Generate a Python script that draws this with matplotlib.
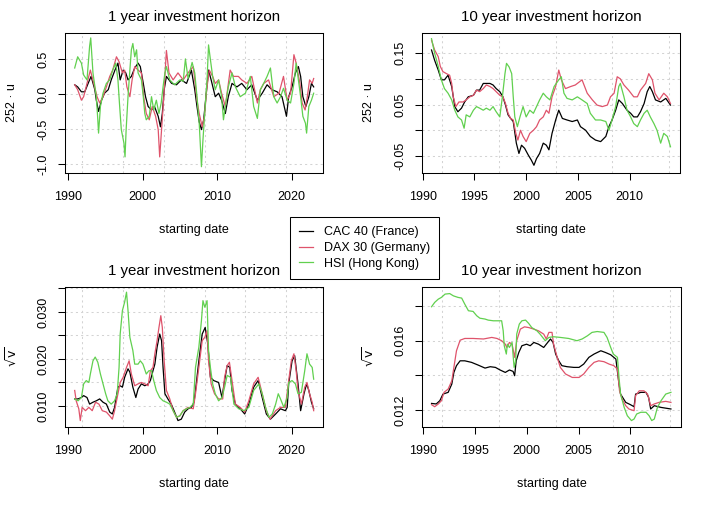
import matplotlib
matplotlib.use('Agg')
import matplotlib.pyplot as plt
from matplotlib.lines import Line2D

plt.rcParams['font.family'] = ['Liberation Sans', 'DejaVu Sans']
plt.rcParams['axes.unicode_minus'] = False
plt.rcParams['mathtext.fontset'] = 'dejavusans'

names = ['CAC 40 (France)', 'DAX 30 (Germany)', 'HSI (Hong Kong)']
colors = ['#000000', '#DF536B', '#61D04F']

# 1 year horizon, 252*u  (starting year, value)
cac_u1 = [(1990.9,0.13),(1991.3,0.10),(1991.8,0.03),(1992.25,0.03),(1992.7,0.15),(1993.1,0.25),(1993.6,0.06),(1993.8,-0.09),(1994.1,-0.25),(1994.5,-0.09),(1994.9,0.01),(1995.4,0.06),(1995.8,0.20),(1996.3,0.34),(1996.7,0.44),(1997.0,0.20),(1997.4,0.34),(1997.75,0.30),(1998.05,0.20),(1998.5,0.25),(1998.95,0.37),(1999.4,0.44),(1999.7,0.39),(2000.1,0.15),(2000.4,-0.04),(2000.75,-0.18),(2001.2,-0.23),(2001.6,-0.18),(2002.1,-0.32),(2002.4,-0.47),(2002.65,-0.28),(2002.9,0.06),(2003.2,0.25),(2003.9,0.15),(2004.55,0.13),(2005.2,0.20),(2005.9,0.15),(2006.55,0.34),(2007.0,0.06),(2007.3,-0.18),(2007.6,-0.40),(2007.9,-0.51),(2008.2,-0.37),(2008.5,-0.04),(2008.85,0.34),(2009.2,0.20),(2009.75,-0.04),(2010.2,0.01),(2010.6,-0.09),(2011.1,-0.28),(2011.5,-0.04),(2012.0,0.15),(2012.65,0.10),(2013.3,0.15),(2014.0,0.06),(2014.65,0.13),(2015.4,-0.09),(2016.05,0.01),(2016.7,0.13),(2017.35,0.06),(2018.05,0.03),(2018.7,-0.04),(2019.3,-0.32),(2019.6,-0.04),(2020.05,0.10),(2020.5,0.30),(2020.9,0.39),(2021.2,0.25),(2021.5,-0.04),(2021.9,-0.18),(2022.3,-0.04),(2022.65,0.15),(2022.95,0.10)]
dax_u1 = [(1990.9,0.13),(1991.3,0.06),(1991.8,-0.09),(1992.1,-0.04),(1992.55,0.15),(1993.0,0.34),(1993.45,0.15),(1993.9,-0.04),(1994.25,-0.13),(1994.7,-0.04),(1995.15,0.10),(1995.6,0.25),(1996.0,0.34),(1996.5,0.53),(1996.85,0.46),(1997.3,0.30),(1997.6,0.34),(1997.9,0.10),(1998.3,-0.04),(1998.6,0.20),(1998.95,0.39),(1999.4,0.34),(1999.85,0.30),(2000.15,-0.04),(2000.5,-0.28),(2000.9,-0.37),(2001.3,-0.18),(2001.75,-0.32),(2002.1,-0.51),(2002.3,-0.90),(2002.55,-0.51),(2002.85,-0.04),(2003.1,0.44),(2003.2,0.62),(2003.55,0.30),(2004.1,0.20),(2004.75,0.30),(2005.45,0.20),(2006.1,0.30),(2006.8,0.39),(2007.0,0.20),(2007.3,-0.09),(2007.6,-0.28),(2008.0,-0.47),(2008.3,-0.32),(2008.6,0.06),(2008.95,0.34),(2009.4,0.25),(2009.75,0.15),(2010.2,0.20),(2010.6,0.01),(2011.1,-0.18),(2011.75,0.34),(2012.2,0.25),(2012.85,0.25),(2013.3,0.20),(2014.0,0.15),(2014.65,0.25),(2015.4,-0.13),(2015.8,0.06),(2016.25,0.15),(2016.9,0.20),(2017.6,-0.04),(2018.3,0.01),(2018.9,0.25),(2019.4,-0.09),(2019.85,0.01),(2020.3,0.56),(2020.6,0.44),(2021.1,0.15),(2021.4,-0.13),(2021.8,-0.23),(2022.1,-0.04),(2022.4,0.20),(2022.75,0.15),(2022.95,0.22)]
hsi_u1 = [(1990.9,0.37),(1991.3,0.53),(1991.8,0.44),(1992.1,0.27),(1992.55,0.20),(1992.9,0.68),(1993.05,0.80),(1993.35,0.30),(1993.8,-0.04),(1994.0,-0.37),(1994.1,-0.56),(1994.35,-0.18),(1994.7,0.01),(1995.15,0.15),(1995.6,0.20),(1996.0,0.34),(1996.4,0.44),(1996.7,0.20),(1996.9,-0.13),(1997.15,-0.51),(1997.5,-0.70),(1997.65,-0.90),(1997.8,-0.51),(1998.05,-0.04),(1998.3,0.34),(1998.5,0.63),(1998.7,0.72),(1998.95,0.53),(1999.2,0.63),(1999.4,0.30),(1999.85,0.20),(2000.1,-0.04),(2000.3,-0.28),(2000.5,-0.37),(2000.9,-0.32),(2001.2,-0.04),(2001.5,-0.23),(2001.85,-0.09),(2002.2,-0.28),(2002.5,-0.13),(2002.75,0.10),(2003.0,0.30),(2003.2,0.39),(2003.65,0.20),(2004.3,0.13),(2005.0,0.20),(2005.45,0.18),(2005.75,0.50),(2006.1,0.22),(2006.65,0.45),(2007.0,0.30),(2007.3,-0.04),(2007.6,-0.42),(2007.9,-1.04),(2008.1,-0.66),(2008.4,-0.18),(2008.65,0.20),(2008.85,0.70),(2009.1,0.49),(2009.4,0.25),(2009.75,0.06),(2010.2,0.20),(2010.6,-0.04),(2010.85,-0.37),(2011.1,-0.18),(2011.5,0.10),(2012.0,0.30),(2012.45,0.10),(2013.1,-0.04),(2013.8,0.01),(2014.45,0.25),(2014.9,-0.18),(2015.4,-0.35),(2015.8,0.06),(2016.25,0.15),(2016.7,0.25),(2017.15,0.37),(2017.6,-0.04),(2018.05,-0.13),(2018.5,-0.04),(2018.9,0.08),(2019.4,-0.09),(2019.85,-0.13),(2020.3,0.15),(2020.6,0.44),(2020.9,0.20),(2021.2,-0.04),(2021.5,-0.32),(2021.85,-0.42),(2022.0,-0.56),(2022.3,-0.18),(2022.65,-0.09),(2022.95,0.01)]

# 10 year horizon, 252*u
cac_u10 = [(1990.85,0.156),(1991.15,0.136),(1991.5,0.117),(1991.8,0.098),(1992.1,0.098),(1992.45,0.107),(1992.8,0.085),(1993.1,0.046),(1993.4,0.036),(1993.75,0.043),(1994.05,0.055),(1994.4,0.065),(1994.9,0.068),(1995.2,0.078),(1995.5,0.078),(1995.85,0.091),(1996.15,0.091),(1996.5,0.091),(1996.8,0.088),(1997.1,0.081),(1997.45,0.075),(1997.75,0.065),(1998.0,0.049),(1998.25,0.030),(1998.5,0.023),(1998.75,0.017),(1999.05,-0.025),(1999.3,-0.045),(1999.55,-0.029),(1999.85,-0.035),(2000.2,-0.048),(2000.5,-0.058),(2000.75,-0.068),(2001.0,-0.055),(2001.3,-0.045),(2001.65,-0.025),(2001.95,-0.029),(2002.2,-0.038),(2002.5,-0.006),(2002.85,0.020),(2003.15,0.039),(2003.5,0.023),(2003.95,0.020),(2004.45,0.017),(2004.95,0.020),(2005.25,0.007),(2005.75,0.0),(2006.2,-0.012),(2006.7,-0.019),(2007.2,-0.022),(2007.7,-0.012),(2008.0,0.007),(2008.3,0.020),(2008.65,0.039),(2008.95,0.059),(2009.3,0.052),(2009.75,0.039),(2010.1,0.033),(2010.4,0.026),(2010.75,0.026),(2011.05,0.036),(2011.4,0.052),(2011.7,0.075),(2011.95,0.085),(2012.2,0.075),(2012.5,0.059),(2013.0,0.055),(2013.5,0.062),(2013.95,0.049)]
dax_u10 = [(1990.85,0.175),(1991.15,0.156),(1991.5,0.143),(1991.7,0.124),(1991.95,0.114),(1992.3,0.110),(1992.6,0.107),(1992.8,0.091),(1992.95,0.065),(1993.2,0.046),(1993.5,0.055),(1993.9,0.055),(1994.2,0.059),(1994.55,0.065),(1994.9,0.068),(1995.2,0.078),(1995.5,0.075),(1995.85,0.081),(1996.15,0.088),(1996.5,0.085),(1996.8,0.081),(1997.1,0.075),(1997.45,0.068),(1997.75,0.065),(1998.0,0.052),(1998.25,0.033),(1998.5,0.023),(1998.75,0.020),(1999.0,-0.006),(1999.2,-0.019),(1999.45,0.0),(1999.7,-0.012),(2000.0,-0.022),(2000.35,-0.006),(2000.7,0.0),(2001.0,0.007),(2001.3,0.020),(2001.65,0.026),(2001.95,0.039),(2002.2,0.033),(2002.5,0.065),(2002.85,0.085),(2003.15,0.117),(2003.4,0.098),(2003.8,0.081),(2004.3,0.085),(2004.75,0.088),(2005.4,0.098),(2005.9,0.072),(2006.4,0.059),(2006.85,0.049),(2007.35,0.046),(2007.85,0.049),(2008.15,0.065),(2008.5,0.072),(2008.8,0.104),(2009.1,0.100),(2009.45,0.088),(2009.9,0.078),(2010.4,0.065),(2010.75,0.065),(2011.05,0.078),(2011.55,0.091),(2011.85,0.110),(2012.2,0.098),(2012.45,0.072),(2012.85,0.059),(2013.3,0.072),(2013.65,0.065),(2013.95,0.052)]
hsi_u10 = [(1990.85,0.178),(1991.15,0.150),(1991.5,0.124),(1991.8,0.098),(1992.1,0.081),(1992.45,0.072),(1992.8,0.059),(1993.1,0.039),(1993.4,0.026),(1993.75,0.020),(1994.0,0.004),(1994.2,0.030),(1994.55,0.026),(1994.9,0.039),(1995.2,0.046),(1995.5,0.043),(1995.85,0.039),(1996.15,0.043),(1996.5,0.039),(1996.8,0.046),(1997.1,0.036),(1997.45,0.026),(1997.7,0.065),(1997.95,0.110),(1998.1,0.130),(1998.35,0.123),(1998.6,0.110),(1998.75,0.065),(1998.9,0.026),(1999.15,0.007),(1999.4,0.026),(1999.7,0.046),(2000.0,0.026),(2000.35,0.039),(2000.7,0.033),(2001.0,0.046),(2001.3,0.059),(2001.65,0.072),(2001.95,0.065),(2002.3,0.059),(2002.7,0.085),(2003.15,0.098),(2003.4,0.104),(2003.65,0.072),(2003.95,0.062),(2004.45,0.059),(2004.95,0.065),(2005.4,0.059),(2005.9,0.052),(2006.2,0.033),(2006.7,0.020),(2007.2,0.020),(2007.7,0.017),(2008.0,0.0),(2008.3,0.020),(2008.65,0.046),(2008.95,0.085),(2009.1,0.091),(2009.45,0.065),(2009.75,0.039),(2010.1,0.026),(2010.4,0.013),(2010.75,0.007),(2011.05,0.020),(2011.4,0.033),(2011.7,0.039),(2012.0,0.026),(2012.35,0.013),(2012.65,0.0),(2013.0,-0.025),(2013.3,-0.006),(2013.65,-0.012),(2013.95,-0.032)]

# 1 year horizon, sqrt(v)
cac_v1 = [(1990.9,0.0115),(1991.35,0.0115),(1991.8,0.0118),(1992.1,0.0122),(1992.55,0.0118),(1992.9,0.0104),(1993.35,0.0108),(1993.8,0.0111),(1994.25,0.0115),(1994.7,0.0108),(1995.15,0.0104),(1995.6,0.0087),(1995.95,0.0083),(1996.25,0.0097),(1996.7,0.0140),(1997.0,0.0143),(1997.3,0.0140),(1997.6,0.0161),(1998.05,0.0179),(1998.3,0.0172),(1998.7,0.0140),(1999.1,0.0118),(1999.4,0.0136),(1999.85,0.0147),(2000.3,0.0143),(2000.75,0.0147),(2001.05,0.0154),(2001.4,0.0175),(2001.65,0.0189),(2001.95,0.0225),(2002.3,0.0253),(2002.55,0.0239),(2002.75,0.0182),(2003.0,0.0126),(2003.4,0.0115),(2003.85,0.0104),(2004.3,0.0087),(2004.75,0.0069),(2005.2,0.0072),(2005.65,0.0087),(2006.1,0.0094),(2006.55,0.0097),(2006.9,0.0108),(2007.1,0.0133),(2007.55,0.0196),(2008.0,0.0253),(2008.4,0.0267),(2008.75,0.0232),(2009.1,0.0161),(2009.55,0.0154),(2010.2,0.0150),(2010.65,0.0118),(2011.0,0.0154),(2011.35,0.0186),(2011.7,0.0182),(2012.0,0.0133),(2012.45,0.0104),(2013.1,0.0094),(2013.7,0.0083),(2014.25,0.0104),(2014.9,0.0140),(2015.5,0.0154),(2016.05,0.0118),(2016.6,0.0083),(2017.15,0.0072),(2017.85,0.0083),(2018.5,0.0094),(2019.15,0.0090),(2019.4,0.0097),(2019.6,0.0147),(2020.05,0.0196),(2020.4,0.0207),(2020.85,0.0147),(2021.2,0.0090),(2021.65,0.0126),(2022.0,0.0147),(2022.3,0.0133),(2022.65,0.0108),(2022.95,0.0094)]
dax_v1 = [(1990.9,0.0133),(1991.1,0.0111),(1991.45,0.0094),(1991.65,0.0069),(1991.9,0.0097),(1992.35,0.0090),(1992.8,0.0097),(1993.25,0.0090),(1993.7,0.0108),(1994.15,0.0104),(1994.6,0.0090),(1995.15,0.0087),(1995.6,0.0079),(1995.95,0.0072),(1996.25,0.0090),(1996.7,0.0126),(1997.0,0.0150),(1997.4,0.0161),(1997.85,0.0182),(1998.2,0.0196),(1998.5,0.0168),(1998.95,0.0143),(1999.4,0.0147),(1999.85,0.0150),(2000.3,0.0147),(2000.75,0.0143),(2001.05,0.0175),(2001.4,0.0182),(2001.65,0.0211),(2001.95,0.0239),(2002.2,0.0267),(2002.45,0.0292),(2002.65,0.0267),(2002.9,0.0196),(2003.2,0.0133),(2003.65,0.0115),(2004.1,0.0090),(2004.55,0.0076),(2005.0,0.0079),(2005.45,0.0090),(2006.1,0.0097),(2006.8,0.0094),(2007.1,0.0126),(2007.55,0.0182),(2008.0,0.0239),(2008.35,0.0246),(2008.65,0.0260),(2008.85,0.0196),(2009.2,0.0147),(2009.65,0.0126),(2010.2,0.0115),(2010.75,0.0115),(2011.0,0.0161),(2011.35,0.0186),(2011.65,0.0193),(2012.0,0.0154),(2012.45,0.0104),(2013.1,0.0097),(2013.7,0.0087),(2014.25,0.0111),(2014.9,0.0147),(2015.5,0.0161),(2016.05,0.0126),(2016.6,0.0090),(2017.1,0.0072),(2017.85,0.0090),(2018.5,0.0097),(2019.15,0.0097),(2019.6,0.0154),(2019.95,0.0196),(2020.3,0.0211),(2020.6,0.0175),(2020.85,0.0133),(2021.3,0.0104),(2021.75,0.0140),(2022.05,0.0150),(2022.4,0.0126),(2022.75,0.0108),(2022.95,0.0090)]
hsi_v1 = [(1990.9,0.0115),(1991.35,0.0111),(1991.8,0.0118),(1992.1,0.0147),(1992.45,0.0154),(1992.8,0.0150),(1993.0,0.0168),(1993.35,0.0196),(1993.65,0.0204),(1994.0,0.0193),(1994.35,0.0168),(1994.7,0.0147),(1995.05,0.0126),(1995.35,0.0111),(1995.8,0.0104),(1996.25,0.0111),(1996.6,0.0126),(1996.85,0.0182),(1997.0,0.0253),(1997.3,0.0303),(1997.6,0.0321),(1997.85,0.0342),(1998.05,0.0303),(1998.3,0.0246),(1998.7,0.0218),(1998.95,0.0189),(1999.4,0.0189),(1999.7,0.0196),(2000.05,0.0189),(2000.5,0.0168),(2000.85,0.0175),(2001.2,0.0175),(2001.5,0.0154),(2001.85,0.0133),(2002.3,0.0118),(2002.75,0.0111),(2003.2,0.0108),(2003.65,0.0104),(2004.1,0.0090),(2004.55,0.0076),(2005.0,0.0079),(2005.45,0.0090),(2005.9,0.0094),(2006.35,0.0097),(2006.8,0.0104),(2007.1,0.0182),(2007.55,0.0225),(2007.9,0.0282),(2008.1,0.0324),(2008.35,0.0310),(2008.65,0.0324),(2008.85,0.0218),(2009.1,0.0182),(2009.4,0.0147),(2009.75,0.0126),(2010.2,0.0111),(2010.65,0.0118),(2011.0,0.0140),(2011.35,0.0165),(2011.8,0.0161),(2012.25,0.0104),(2012.9,0.0094),(2013.6,0.0090),(2014.25,0.0097),(2014.9,0.0133),(2015.6,0.0147),(2016.05,0.0126),(2016.5,0.0097),(2016.95,0.0076),(2017.4,0.0083),(2017.85,0.0104),(2018.2,0.0126),(2018.5,0.0115),(2018.95,0.0097),(2019.4,0.0118),(2019.6,0.0150),(2020.05,0.0154),(2020.5,0.0147),(2020.85,0.0126),(2021.3,0.0129),(2021.75,0.0175),(2022.05,0.0211),(2022.4,0.0189),(2022.75,0.0182),(2022.95,0.0157)]

# 10 year horizon, sqrt(v)
cac_v10 = [(1990.85,0.01238),(1991.3,0.01235),(1991.65,0.01254),(1991.95,0.01292),(1992.45,0.01302),(1992.8,0.0135),(1993.0,0.01417),(1993.25,0.01456),(1993.6,0.01484),(1994.05,0.01484),(1994.7,0.01475),(1995.35,0.01459),(1996.0,0.01442),(1996.5,0.0145),(1997.0,0.01446),(1997.45,0.01431),(1997.95,0.01417),(1998.35,0.01431),(1998.7,0.01423),(1998.85,0.01398),(1999.0,0.01484),(1999.25,0.01532),(1999.55,0.01571),(2000.0,0.0158),(2000.35,0.01571),(2000.7,0.0159),(2001.15,0.0158),(2001.65,0.01561),(2001.9,0.0158),(2002.3,0.0161),(2002.55,0.0159),(2002.8,0.01523),(2003.1,0.01484),(2003.4,0.01456),(2003.9,0.0145),(2004.55,0.01446),(2005.05,0.01446),(2005.5,0.01465),(2006.0,0.01504),(2006.5,0.01523),(2007.15,0.01542),(2007.6,0.01532),(2008.1,0.01519),(2008.6,0.01494),(2008.9,0.0135),(2009.05,0.01292),(2009.55,0.01244),(2010.0,0.01231),(2010.35,0.01219),(2010.5,0.01292),(2011.0,0.01302),(2011.5,0.01302),(2011.75,0.01273),(2011.95,0.01206),(2012.3,0.01225),(2012.95,0.01215),(2013.9,0.01206)]
dax_v10 = [(1990.85,0.01231),(1991.15,0.01219),(1991.5,0.01235),(1991.8,0.01254),(1992.05,0.01302),(1992.45,0.01321),(1992.8,0.01369),(1993.0,0.01446),(1993.25,0.01542),(1993.6,0.01603),(1994.05,0.01613),(1994.85,0.01613),(1995.85,0.0161),(1996.65,0.01619),(1997.15,0.01613),(1997.6,0.016),(1997.95,0.0158),(1998.1,0.01561),(1998.35,0.0159),(1998.6,0.0158),(1998.85,0.01504),(1999.05,0.016),(1999.4,0.01667),(1999.8,0.0168),(2000.2,0.01676),(2000.7,0.01667),(2001.15,0.01657),(2001.65,0.01638),(2001.9,0.0161),(2002.15,0.01648),(2002.45,0.01648),(2002.6,0.0158),(2002.95,0.01504),(2003.25,0.01446),(2003.75,0.01408),(2004.4,0.01388),(2005.05,0.01388),(2005.5,0.01408),(2006.0,0.01446),(2006.5,0.01475),(2006.95,0.01484),(2007.45,0.01479),(2007.95,0.01465),(2008.4,0.01456),(2008.75,0.01436),(2008.95,0.01311),(2009.2,0.01263),(2009.55,0.01225),(2009.85,0.01206),(2010.35,0.01196),(2010.5,0.01283),(2010.85,0.01311),(2011.3,0.01311),(2011.65,0.01292),(2011.95,0.01225),(2012.3,0.01235),(2012.75,0.01244),(2013.4,0.0125),(2013.9,0.01244)]
hsi_v10 = [(1990.85,0.01796),(1991.15,0.01821),(1991.5,0.0184),(1991.8,0.0185),(1992.15,0.01869),(1992.6,0.01872),(1992.95,0.01859),(1993.4,0.0185),(1993.75,0.01846),(1994.05,0.01811),(1994.4,0.01773),(1994.85,0.01769),(1995.2,0.01744),(1995.5,0.0173),(1996.0,0.01725),(1996.3,0.01719),(1996.8,0.01715),(1997.3,0.01715),(1997.6,0.01715),(1997.75,0.01657),(1997.85,0.01571),(1998.05,0.01523),(1998.15,0.0158),(1998.35,0.01561),(1998.6,0.0159),(1998.8,0.01446),(1998.95,0.01484),(1999.05,0.01638),(1999.3,0.01696),(1999.55,0.01715),(1999.9,0.01719),(2000.2,0.017),(2000.5,0.01676),(2001.0,0.01657),(2001.3,0.01638),(2001.8,0.016),(2002.15,0.01619),(2002.6,0.01623),(2003.25,0.01619),(2004.05,0.01613),(2004.85,0.016),(2005.35,0.0161),(2005.85,0.01628),(2006.3,0.01648),(2006.8,0.01653),(2007.45,0.01648),(2007.75,0.01619),(2008.1,0.01561),(2008.35,0.01523),(2008.75,0.01504),(2008.9,0.01388),(2009.05,0.01292),(2009.4,0.01215),(2009.7,0.01167),(2010.1,0.01139),(2010.35,0.01148),(2010.6,0.01177),(2011.0,0.01187),(2011.5,0.01187),(2011.8,0.01167),(2012.05,0.01139),(2012.3,0.01148),(2012.6,0.01215),(2012.95,0.01254),(2013.4,0.01292),(2013.9,0.01302)]

# grid lines of the date axis sit every 2000 days from 1970-01-01
grid_days = [8000, 10000, 12000, 14000, 16000, 18000]
grid_years = [1970 + d / 365.25 for d in grid_days]

fig = plt.figure(figsize=(7.14, 5.09), dpi=100)
W, H = 714, 509
FS = 9.0     # axis text
FS_T = 10.8  # panel titles


def add_axes(x0, y0, x1, y1):
    return fig.add_axes([x0 / W, 1 - y1 / H, (x1 - x0) / W, (y1 - y0) / H])


def panel(ax, series, title, ylab, xlim, ylim, xticks, yticks, ylabels):
    for g in grid_years:
        if xlim[0] < g < xlim[1]:
            ax.axvline(g, color='lightgray', ls=(0, (2, 3)), lw=0.75, zorder=0)
    for y in yticks:
        ax.axhline(y, color='lightgray', ls=(0, (2, 3)), lw=0.75, zorder=0)
    for s, c in zip(series, colors):
        t, v = zip(*s)
        ax.plot(t, v, color=c, lw=0.9)
    ax.set_xlim(*xlim)
    ax.set_ylim(*ylim)
    ax.set_xticks(xticks)
    ax.set_xticklabels([str(x) for x in xticks])
    ax.set_yticks(yticks)
    ax.set_yticklabels(ylabels, rotation=90, va='center')
    ax.tick_params(direction='out', length=5, width=0.75, labelsize=FS,
                   colors='black')
    ax.tick_params(axis='x', pad=8)
    ax.tick_params(axis='y', pad=6)
    for sp in ax.spines.values():
        sp.set_linewidth(0.75)
    ax.text(0.5, 1.085, title, transform=ax.transAxes, ha='center',
            va='baseline', fontsize=FS_T)
    ax.text(0.5, -0.41, 'starting date', transform=ax.transAxes,
            ha='center', va='center', fontsize=FS)
    ax.text(-0.205, 0.5, ylab, transform=ax.transAxes, rotation=90,
            ha='center', va='center', fontsize=FS)


ax1 = add_axes(65, 33, 323, 173)
panel(ax1, [cac_u1, dax_u1, hsi_u1], '1 year investment horizon', '252 \u00b7 u',
      (1989.6, 2024.2), (-1.13, 0.87), [1990, 2000, 2010, 2020],
      [-1.0, -0.5, 0.0, 0.5], ['-1.0', '-0.5', '0.0', '0.5'])

ax2 = add_axes(422, 33, 680, 173)
panel(ax2, [cac_u10, dax_u10, hsi_u10], '10 year investment horizon', '252 \u00b7 u',
      (1989.93, 2014.87), (-0.083, 0.189), [1990, 1995, 2000, 2005, 2010],
      [-0.05, 0.0, 0.05, 0.10, 0.15], ['-0.05', '', '0.05', '', '0.15'])

ax3 = add_axes(65, 287, 323, 427)
panel(ax3, [cac_v1, dax_v1, hsi_v1], '1 year investment horizon', r'$\sqrt{\mathrm{v}}$',
      (1989.6, 2024.2), (0.00553, 0.0353), [1990, 2000, 2010, 2020],
      [0.010, 0.015, 0.020, 0.025, 0.030, 0.035],
      ['0.010', '', '0.020', '', '0.030', ''])

ax4 = add_axes(422, 287, 681, 427)
panel(ax4, [cac_v10, dax_v10, hsi_v10], '10 year investment horizon', r'$\sqrt{\mathrm{v}}$',
      (1989.93, 2014.87), (0.01102, 0.0191), [1990, 1995, 2000, 2005, 2010],
      [0.012, 0.014, 0.016, 0.018], ['0.012', '', '0.016', ''])

handles = [Line2D([], [], color=c, lw=0.9) for c in colors]
leg = fig.legend(handles, names, loc='center', bbox_to_anchor=(364.5 / W, 1 - 248 / H),
                 fontsize=FS, frameon=True, fancybox=False, framealpha=1,
                 edgecolor='black', borderpad=0.75, handlelength=1.1,
                 handletextpad=0.9, labelspacing=0.3)
leg.get_frame().set_linewidth(0.75)

fig.savefig('out.png', dpi=100)
